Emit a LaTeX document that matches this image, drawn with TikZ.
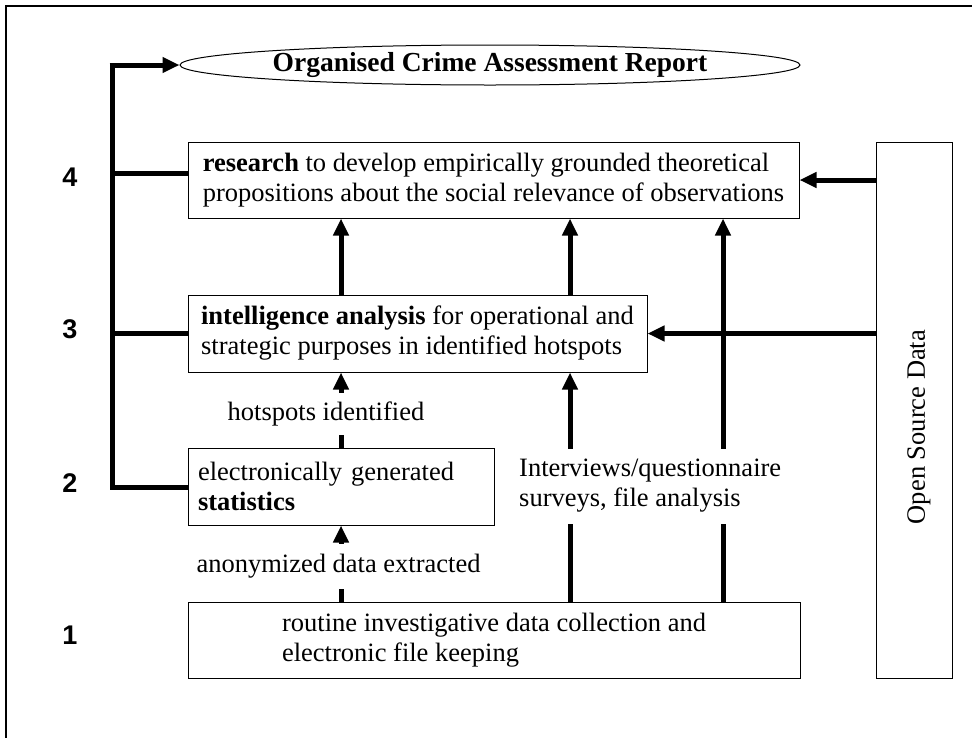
\documentclass[tikz,border=0pt]{standalone}
\usepackage{fontspec}
\setmainfont{Liberation Serif}
\newfontfamily\numfont{Liberation Sans}
\usetikzlibrary{arrows.meta,shapes.geometric}
\newcommand{\diafont}{\fontsize{26.5}{30}\selectfont}
\newcommand{\ttlfont}{\fontsize{27.5}{30}\selectfont\bfseries}
\begin{document}
\begin{tikzpicture}[x=1pt,y=-1pt,
  box/.style={draw,line width=1pt,inner sep=0pt,align=left,font=\diafont},
  heavy/.style={line width=5pt},
  arr/.style={line width=5pt,-{Triangle[length=17pt,width=15pt]}},
  num/.style={font=\numfont\bfseries\fontsize{27}{30}\selectfont,inner sep=0pt},
  lab/.style={fill=white,inner sep=0pt,font=\diafont}]
\useasboundingbox (0,0) rectangle (972,737);
% frame
\draw[line width=2.5pt] (6,745) -- (6,6) -- (980,6);

% boxes
\node[ellipse,draw,line width=1pt,minimum width=620,minimum height=40,inner sep=0pt,font=\ttlfont] (rep) at (490,65) {Organised Crime Assessment Report};
\node[box,minimum width=611,minimum height=76] (res) at (493.5,180) {\textbf{research} to develop empirically grounded theoretical\\propositions about the social relevance of observations};
\node[box,minimum width=459,minimum height=77] (int) at (417.5,333.5) {\textbf{intelligence analysis} for operational and\\strategic purposes in identified hotspots};
\node[box,minimum width=306,minimum height=77,text width=286] (stat) at (341,486.5) {electronically generated\\\textbf{statistics}};
\node[box,minimum width=612,minimum height=76] (rout) at (494,640) {routine investigative data collection and\\electronic file keeping};
\node[draw,line width=1pt,minimum width=76,minimum height=536,inner sep=0pt] (osd) at (914,410) {};
\node[rotate=90,font=\diafont,inner sep=0pt] (osdt) at (919,427) {Open Source Data};

% level numbers
\node[num] (n4) at (70,177) {4};
\node[num] (n3) at (70,329) {3};
\node[num] (n2) at (70,483) {2};
\node[num] (n1) at (70,635) {1};

% column coordinates
\coordinate (c1) at (341,0);
\coordinate (c2) at (570,0);
\coordinate (c3) at (723,0);
\coordinate (btop) at (112,65);
\coordinate (bbot) at (112,487);
\coordinate (bres) at (188,173);

% bracket
\draw[heavy] (stat.west |- bbot) -- (bbot) -- (btop);
\draw[heavy] (bres) -- (bres -| btop);
\draw[heavy] (int.west) -- (int.west -| btop);
\draw[arr] ([xshift=-2.5pt]btop) -- (rep.west);

% upward arrows
\draw[arr] (c1 |- rout.north) -- (c1 |- stat.south);
\draw[arr] (c1 |- stat.north) -- (c1 |- int.south);
\draw[arr] (c1 |- int.north) -- (c1 |- res.south);
\draw[arr] (c2 |- int.north) -- (c2 |- res.south);
\draw[arr] (c2 |- rout.north) -- (c2 |- int.south);
\draw[arr] (c3 |- rout.north) -- (c3 |- res.south);

% open source arrows
\draw[arr] (osd.west |- res.east) -- (res.east);
\draw[arr] (osd.west |- int.east) -- (int.east);

% labels on arrows
\node[lab,minimum height=42] (hot) at (326,414) {hotspots identified};
\node[lab,minimum height=45] (anon) at (338.5,566) {anonymized data extracted};
\node[lab,anchor=west,align=left,minimum height=75] (intv) at (519,486) {Interviews/questionnaire\\surveys, file analysis};
\end{tikzpicture}
\end{document}
